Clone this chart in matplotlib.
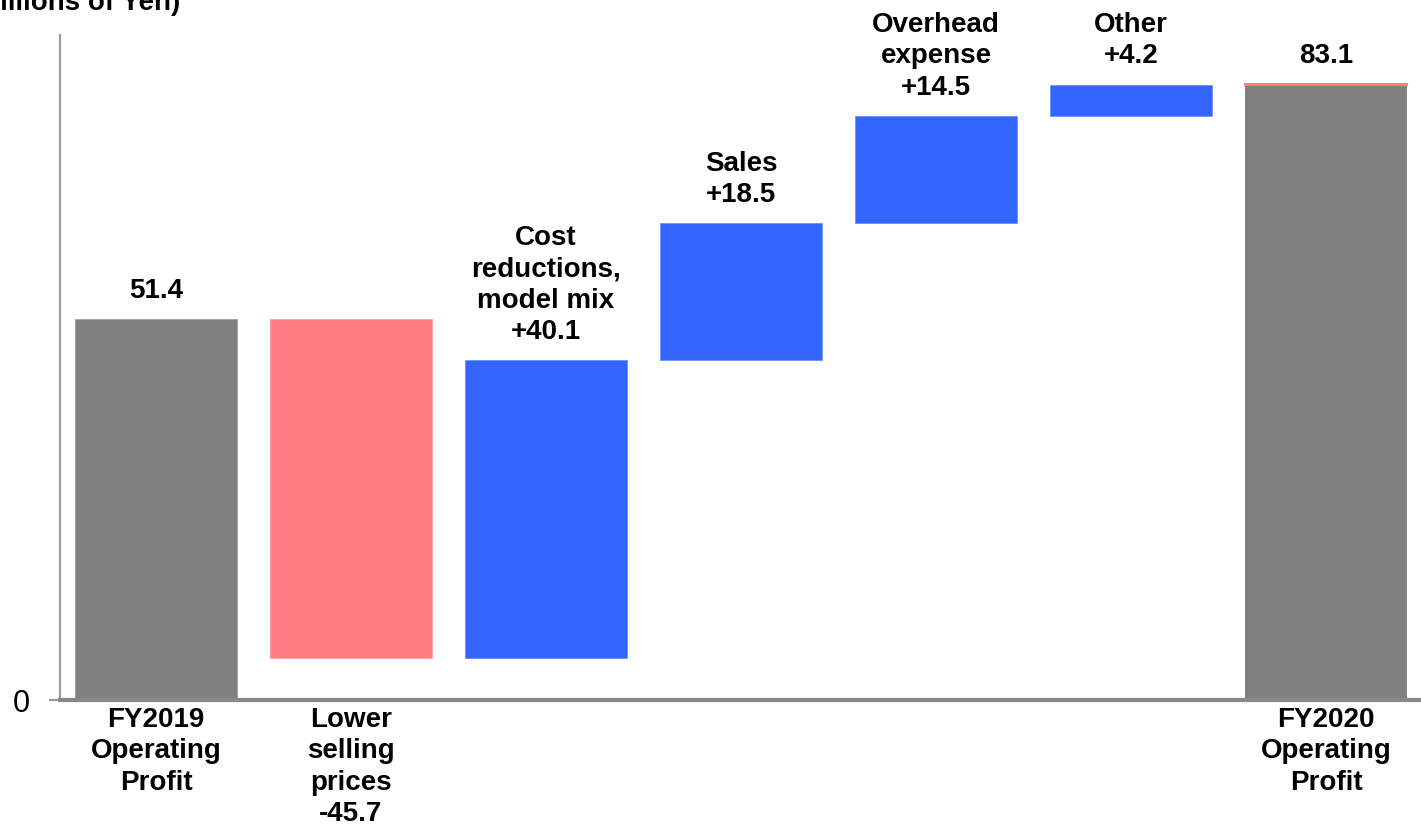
import numpy as np
import matplotlib.pyplot as plt

plt.rcParams['font.family'] = ['Liberation Sans', 'DejaVu Sans']

start_value = 51.4
end_value = 83.1
change_names = ['Lower\nselling\nprices', 'Cost\nreductions,\nmodel mix', 'Sales',
                'Overhead\nexpense', 'Other']
changes = [-45.7, 40.1, 18.5, 14.5, 4.2]
tick_labels = ['FY2019\nOperating\nProfit', 'Lower\nselling\nprices\n-45.7', '', '', '', '',
               'FY2020\nOperating\nProfit']

gray = '#808080'
red = '#FF7C80'
blue = '#3366FF'

fig = plt.figure(figsize=(14.21, 8.27), dpi=100)
ax = fig.add_axes([60 / 1421, 127 / 827, 1 - 60 / 1421, (700 - 35) / 827])

w = 0.83
x = np.arange(len(changes) + 2)
ls = 1.27

# start bar
ax.bar(x[0], start_value, width=w, color=gray, edgecolor='#a0a0a0', linewidth=0.6)
ax.annotate(f'{start_value:.1f}', (x[0], start_value), xytext=(0, 11), textcoords='offset points',
            ha='center', va='bottom', fontsize=20, fontweight='bold')

# change bars
cum = start_value
for i, (name, c) in enumerate(zip(change_names, changes)):
    xi = x[i + 1]
    if c < 0:
        ax.bar(xi, -c, bottom=cum + c, width=w, color=red, edgecolor='#ffa0a0', linewidth=0.6)
    else:
        ax.bar(xi, c, bottom=cum, width=w, color=blue, edgecolor='#7090ff', linewidth=0.6)
        ax.annotate(f'{name}\n+{c:.1f}', (xi, cum + c), xytext=(0, 11), textcoords='offset points',
                    ha='center', va='bottom', fontsize=20, fontweight='bold', linespacing=ls)
    cum += c

# end bar, rounding difference shown in red at top
ax.bar(x[-1], cum, width=w, color=gray, edgecolor='none')
ax.bar(x[-1], end_value - cum, bottom=cum, width=w, color=red, edgecolor=red, linewidth=1.5)
ax.annotate(f'{end_value:.1f}', (x[-1], end_value), xytext=(0, 11), textcoords='offset points',
            ha='center', va='bottom', fontsize=20, fontweight='bold')

ax.set_xlim(-0.492, 6.487)
ax.set_ylim(0, 89.7)
ax.set_xticks(x)
ax.set_xticklabels(tick_labels, fontsize=20, fontweight='bold', linespacing=ls)
ax.tick_params(axis='x', length=0, pad=5)
ax.set_yticks([0])
ax.set_yticklabels(['0'], fontsize=22)
ax.tick_params(axis='y', length=8, width=1.5, color='#999999', pad=14)

ax.spines['top'].set_visible(False)
ax.spines['right'].set_visible(False)
ax.spines['left'].set_color('#999999')
ax.spines['left'].set_linewidth(1.5)
ax.spines['bottom'].set_color('#888888')
ax.spines['bottom'].set_linewidth(3)

fig.text(-29 / 1421, 1 - 10 / 827, '(Billions of Yen)', fontsize=20, fontweight='bold',
         ha='left', va='baseline')

fig.savefig('out.png', dpi=100)
